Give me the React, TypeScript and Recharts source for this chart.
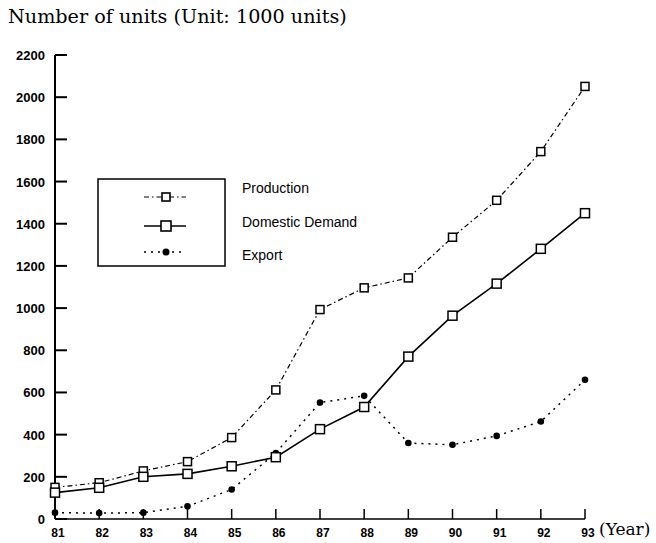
import { LineChart, Line, XAxis, YAxis, Legend } from "recharts"

const years = [81, 82, 83, 84, 85, 86, 87, 88, 89, 90, 91, 92, 93]
const production = [150, 172, 228, 272, 386, 612, 993, 1096, 1143, 1336, 1511, 1742, 2051]
const domesticDemand = [125, 148, 200, 214, 250, 293, 426, 531, 770, 964, 1116, 1281, 1450]
const exportUnits = [30, 28, 30, 60, 140, 313, 552, 584, 360, 352, 394, 462, 660]
const yTicks = [0, 200, 400, 600, 800, 1000, 1200, 1400, 1600, 1800, 2000, 2200]

const seriesNames = ["Production", "Domestic Demand", "Export"]

const data = years.map((year, i) => ({
  year,
  production: production[i],
  domestic: domesticDemand[i],
  export: exportUnits[i],
}))

const sans = "'Liberation Sans', Arial, Helvetica, sans-serif"
const serif = "'DejaVu Serif', 'Liberation Serif', serif"

const PROD_DASH = "5 3 1.5 3"
const EXPORT_DASH = "2 5"

// tick lines point inward (negative tickSize), labels pushed back out with tickMargin
function YTick({ x, y, payload }: any) {
  return (
    <text x={x} y={y} dy={5} textAnchor="end" fontSize={13} fontWeight="bold" fontFamily={sans} fill="#000">
      {payload.value}
    </text>
  )
}

function XTick({ x, y, payload }: any) {
  return (
    <text x={x + 3} y={y} dy={10} textAnchor="middle" fontSize={12} fontWeight="bold" fontFamily={sans} fill="#000">
      {payload.value}
    </text>
  )
}

function SquareDot({ cx, cy, size }: any) {
  if (cx == null || cy == null) return null
  const s = size
  return <rect x={cx - s / 2} y={cy - s / 2} width={s} height={s} fill="#fff" stroke="#000" strokeWidth={1.5} />
}

function LegendBox() {
  const rows = [
    { dash: PROD_DASH, width: 1.2, marker: "square", size: 8, y: 19 },
    { dash: undefined, width: 1.6, marker: "square", size: 10, y: 48 },
    { dash: EXPORT_DASH, width: 1.5, marker: "dot", size: 7, y: 74 },
  ]
  const labelY = [10, 44, 77]
  return (
    <div style={{ position: "relative", width: 300, height: 90 }}>
      <svg width={130} height={90} style={{ position: "absolute", left: 0, top: 0 }}>
        <rect x={1} y={1} width={127} height={87} fill="#fff" stroke="#000" strokeWidth={1.5} />
        {rows.map((r, i) => (
          <g key={i}>
            <line x1={47} x2={89} y1={r.y} y2={r.y} stroke="#000" strokeWidth={r.width} strokeDasharray={r.dash} />
            {r.marker === "square" ? (
              <rect x={69 - r.size / 2} y={r.y - r.size / 2} width={r.size} height={r.size} fill="#fff" stroke="#000" strokeWidth={1.6} />
            ) : (
              <circle cx={69} cy={r.y} r={3.5} fill="#000" />
            )}
          </g>
        ))}
      </svg>
      {seriesNames.map((name, i) => (
        <div
          key={name}
          style={{
            position: "absolute",
            left: 145,
            top: labelY[i] - 9,
            fontFamily: sans,
            fontSize: 14,
            lineHeight: "18px",
            color: "#000",
            whiteSpace: "nowrap",
          }}
        >
          {name}
        </div>
      ))}
    </div>
  )
}

export default function App() {
  return (
    <div style={{ position: "absolute", left: 0, top: 0, width: 656, height: 543, background: "#fff" }}>
      <div
        style={{
          position: "absolute",
          left: 8,
          top: 6,
          fontFamily: serif,
          fontSize: 19.2,
          lineHeight: "22px",
          color: "#000",
          whiteSpace: "nowrap",
        }}
      >
        Number of units (Unit: 1000 units)
      </div>
      <div
        style={{
          position: "absolute",
          left: 599,
          top: 518,
          fontFamily: serif,
          fontSize: 17,
          lineHeight: "22px",
          color: "#000",
          whiteSpace: "nowrap",
        }}
      >
        (Year)
      </div>
      <LineChart width={656} height={543} data={data} margin={{ top: 55, right: 71, bottom: 0, left: 0 }}>
        <XAxis
          dataKey="year"
          type="number"
          domain={[81, 93]}
          ticks={years}
          height={24}
          tickSize={-10}
          tickMargin={18}
          tick={<XTick />}
          axisLine={{ stroke: "#000", strokeWidth: 1.5 }}
          tickLine={{ stroke: "#000", strokeWidth: 1.5 }}
          interval={0}
        />
        <YAxis
          type="number"
          domain={[0, 2200]}
          ticks={yTicks}
          width={55}
          tickSize={-12}
          tickMargin={22}
          tick={<YTick />}
          axisLine={{ stroke: "#000", strokeWidth: 2 }}
          tickLine={{ stroke: "#000", strokeWidth: 2 }}
          interval={0}
        />
        <Legend
          layout="vertical"
          align="center"
          verticalAlign="middle"
          content={<LegendBox />}
          wrapperStyle={{ position: "absolute", left: 97, top: 178, width: 300, height: 90 }}
        />
        <Line
          dataKey="export"
          stroke="#000"
          strokeWidth={1.5}
          strokeDasharray={EXPORT_DASH}
          dot={{ r: 3.3, fill: "#000", stroke: "none" }}
          isAnimationActive={false}
        />
        <Line
          dataKey="production"
          stroke="#000"
          strokeWidth={1.2}
          strokeDasharray={PROD_DASH}
          dot={(p: any) => <SquareDot key={`p-${p.index}`} {...p} size={8} />}
          isAnimationActive={false}
        />
        <Line
          dataKey="domestic"
          stroke="#000"
          strokeWidth={1.6}
          dot={(p: any) => <SquareDot key={`d-${p.index}`} {...p} size={9} />}
          isAnimationActive={false}
        />
      </LineChart>
    </div>
  )
}
